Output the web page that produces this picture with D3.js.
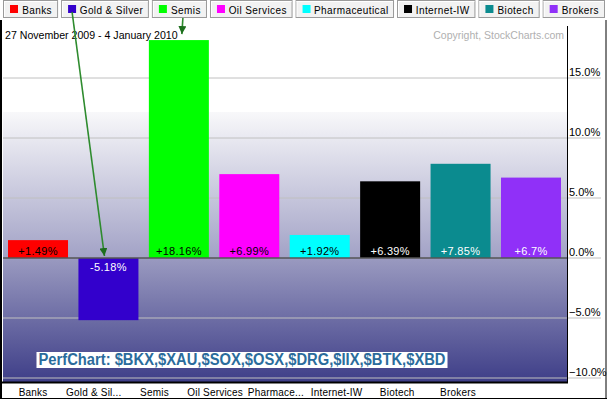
<!DOCTYPE html>
<html>
<head>
<meta charset="utf-8">
<script src="https://cdn.jsdelivr.net/npm/d3@7"></script>
<style>
  body { margin: 0; background: #fff; }
  text { font-family: "Liberation Sans", Arial, sans-serif; }
</style>
</head>
<body>
<div id="chart"></div>
<script>
// data
const names = ["Banks", "Gold & Silver", "Semis", "Oil Services", "Pharmaceutical", "Internet-IW", "Biotech", "Brokers"];
const axisNames = ["Banks", "Gold & Sil...", "Semis", "Oil Services", "Pharmace...", "Internet-IW", "Biotech", "Brokers"];
const changes = [1.49, -5.18, 18.16, 6.99, 1.92, 6.39, 7.85, 6.7];
const colors = ["#ff0000", "#3300cc", "#00ff00", "#ff00ff", "#00ffff", "#000000", "#0b8b8f", "#9030f8"];
const labelColors = ["#000", "#fff", "#000", "#000", "#000", "#fff", "#fff", "#fff"];
const yTicks = [-10, -5, 0, 5, 10, 15];
const dateRange = "27 November 2009 - 4 January 2010";
const tickerLine = "PerfChart: $BKX,$XAU,$SOX,$OSX,$DRG,$IIX,$BTK,$XBD";

const width = 607, height = 399;
const plot = { left: 3, right: 567, top: 20, bottom: 382 };

const svg = d3.select("#chart").append("svg")
  .attr("width", width)
  .attr("height", height);

const x = d3.scaleBand()
  .domain(names)
  .range([2.8, 566.2])
  .paddingInner(0.148)
  .paddingOuter(0.074);

// category labels under the plot are spaced tighter than the bars
const xLab = d3.scaleBand()
  .domain(axisNames)
  .range([2.7, 488.3]);

const y = d3.scaleLinear()
  .domain([-10, 15])
  .range([378, 78]);

// background gradient
const defs = svg.append("defs");
const gUp = defs.append("linearGradient").attr("id", "gup")
  .attr("gradientUnits", "userSpaceOnUse")
  .attr("x1", 0).attr("x2", 0).attr("y1", 112).attr("y2", y(0));
gUp.append("stop").attr("offset", 0).attr("stop-color", "#f8f8fa");
gUp.append("stop").attr("offset", 1).attr("stop-color", "#a2a2c6");
const gDn = defs.append("linearGradient").attr("id", "gdn")
  .attr("gradientUnits", "userSpaceOnUse")
  .attr("x1", 0).attr("x2", 0).attr("y1", y(0)).attr("y2", plot.bottom);
gDn.append("stop").attr("offset", 0).attr("stop-color", "#9a9ac0");
gDn.append("stop").attr("offset", 1).attr("stop-color", "#3e3e88");

svg.append("rect")
  .attr("x", plot.left).attr("y", 112)
  .attr("width", plot.right - plot.left).attr("height", y(0) - 112)
  .attr("fill", "url(#gup)");
svg.append("rect")
  .attr("x", plot.left).attr("y", y(0))
  .attr("width", plot.right - plot.left).attr("height", plot.bottom - y(0))
  .attr("fill", "url(#gdn)");

// grid + right axis
svg.append("g").selectAll("line")
  .data(yTicks.filter(d => d !== 0))
  .join("line")
  .attr("x1", plot.left).attr("x2", 601)
  .attr("y1", d => y(d)).attr("y2", d => y(d))
  .attr("stroke", "#c0c0c0");

svg.append("line")
  .attr("x1", plot.right).attr("x2", 601)
  .attr("y1", y(0)).attr("y2", y(0))
  .attr("stroke", "#c0c0c0");

svg.append("g").selectAll("text")
  .data(yTicks)
  .join("text")
  .attr("x", 569)
  .attr("y", d => y(d) - 2)
  .attr("font-size", 11)
  .attr("fill", "#000")
  .text(d => d3.format(".1f")(d) + "%");

// bars
svg.append("g").selectAll("rect")
  .data(changes)
  .join("rect")
  .attr("x", (d, i) => x(names[i]))
  .attr("y", d => y(Math.max(0, d)))
  .attr("width", x.bandwidth())
  .attr("height", d => Math.abs(y(d) - y(0)))
  .attr("fill", (d, i) => colors[i]);

svg.append("g").selectAll("text")
  .data(changes)
  .join("text")
  .attr("x", (d, i) => x(names[i]) + x.bandwidth() / 2)
  .attr("y", d => d >= 0 ? y(0) - 3 : y(0) + 13)
  .attr("text-anchor", "middle")
  .attr("font-size", 11)
  .attr("letter-spacing", 0.3)
  .attr("fill", (d, i) => labelColors[i])
  .text(d => (d > 0 ? "+" : "") + d + "%");

// zero line
svg.append("line")
  .attr("x1", plot.left).attr("x2", plot.right)
  .attr("y1", y(0)).attr("y2", y(0))
  .attr("stroke", "#555").attr("stroke-width", 1.5);

// frame
svg.append("line").attr("x1", 1).attr("x2", 1).attr("y1", plot.top).attr("y2", height)
  .attr("stroke", "#000").attr("stroke-width", 2);
svg.append("line").attr("x1", plot.right + 0.5).attr("x2", plot.right + 0.5).attr("y1", plot.top + 6).attr("y2", plot.bottom + 1)
  .attr("stroke", "#000");
svg.append("line").attr("x1", 0).attr("x2", plot.right + 1).attr("y1", plot.bottom + 0.5).attr("y2", plot.bottom + 0.5)
  .attr("stroke", "#000").attr("stroke-width", 2);
svg.append("line").attr("x1", 0).attr("x2", width).attr("y1", height - 0.5).attr("y2", height - 0.5)
  .attr("stroke", "#000");
svg.append("line").attr("x1", width - 1).attr("x2", width - 1).attr("y1", plot.top).attr("y2", height)
  .attr("stroke", "#000");

// category labels
svg.append("g").selectAll("text")
  .data(axisNames)
  .join("text")
  .attr("x", d => xLab(d) + xLab.bandwidth() / 2)
  .attr("y", 396)
  .attr("text-anchor", "middle")
  .attr("font-size", 10)
  .attr("letter-spacing", 0.2)
  .text(d => d);

// date + copyright
svg.append("text").attr("x", 5).attr("y", 39).attr("font-size", 10.6).text(dateRange);
svg.append("text").attr("x", 564).attr("y", 39).attr("font-size", 10.5)
  .attr("text-anchor", "end").attr("fill", "#b0b0b0")
  .text("Copyright, StockCharts.com");

// ticker caption
const cap = svg.append("g");
const capBg = cap.append("rect").attr("fill", "#fff");
const capText = cap.append("text")
  .attr("x", 242).attr("y", 365)
  .attr("text-anchor", "middle")
  .attr("font-size", 16)
  .attr("font-weight", "bold")
  .attr("fill", "#2b6c9c")
  .attr("textLength", 407)
  .attr("lengthAdjust", "spacingAndGlyphs")
  .text(tickerLine);
const bb = capText.node().getBBox();
capBg.attr("x", bb.x - 2).attr("y", bb.y + 1).attr("width", bb.width + 4).attr("height", bb.height - 1);

// legend tabs, widths fitted to the full row
const tabs = svg.append("g");
const tabGap = 3, tabLeft = 3, tabRight = 605;
const tabTexts = names.map(n => tabs.append("text")
  .attr("y", 13.5).attr("font-size", 10).attr("letter-spacing", 0.4).text(n));
const rawW = tabTexts.map(t => t.node().getComputedTextLength() + 27);
const k = (tabRight - tabLeft - tabGap * (names.length - 1)) / d3.sum(rawW);
let tx = tabLeft;
const tabPos = [];
names.forEach((n, i) => {
  const w = rawW[i] * k;
  const g = tabs.insert("g", "text");
  g.append("rect")
    .attr("x", tx + 0.5).attr("y", 0.5).attr("width", w - 1).attr("height", 17)
    .attr("fill", "#f2f2f2").attr("stroke", "#9a9a9a");
  g.append("line").attr("x1", tx + 1).attr("x2", tx + w - 1).attr("y1", 1.5).attr("y2", 1.5).attr("stroke", "#fff");
  g.append("line").attr("x1", tx + 1.5).attr("x2", tx + 1.5).attr("y1", 1).attr("y2", 17).attr("stroke", "#fff");
  g.append("rect").attr("x", tx + 7).attr("y", 5).attr("width", 8).attr("height", 8).attr("fill", colors[i]);
  tabPos.push({ x: tx, w: w });
  tx += w + tabGap;
});
tabTexts.forEach((t, i) => t.attr("x", tabPos[i].x + 20 + (tabPos[i].w - rawW[i]) / 2));

// annotation arrows
defs.append("marker").attr("id", "ah")
  .attr("viewBox", "0 0 10 10").attr("refX", 10).attr("refY", 5)
  .attr("markerWidth", 5).attr("markerHeight", 5)
  .attr("markerUnits", "strokeWidth")
  .attr("orient", "auto")
  .append("path").attr("d", "M0,0 L10,5 L0,10 z").attr("fill", "#1d6e1d");

const arrows = [
  { from: [tabPos[1].x + 11, 12], to: [x(names[1]) + x.bandwidth() / 2 - 4, y(0) - 2] },
  { from: [tabPos[2].x + 31, 18], to: [x(names[2]) + x.bandwidth() / 2 + 3, y(changes[2]) - 6] }
];
svg.append("g").selectAll("line")
  .data(arrows)
  .join("line")
  .attr("x1", d => d.from[0]).attr("y1", d => d.from[1])
  .attr("x2", d => d.to[0]).attr("y2", d => d.to[1])
  .attr("stroke", "#2e8b2e").attr("stroke-width", 1.6)
  .attr("marker-end", "url(#ah)");
</script>
</body>
</html>
